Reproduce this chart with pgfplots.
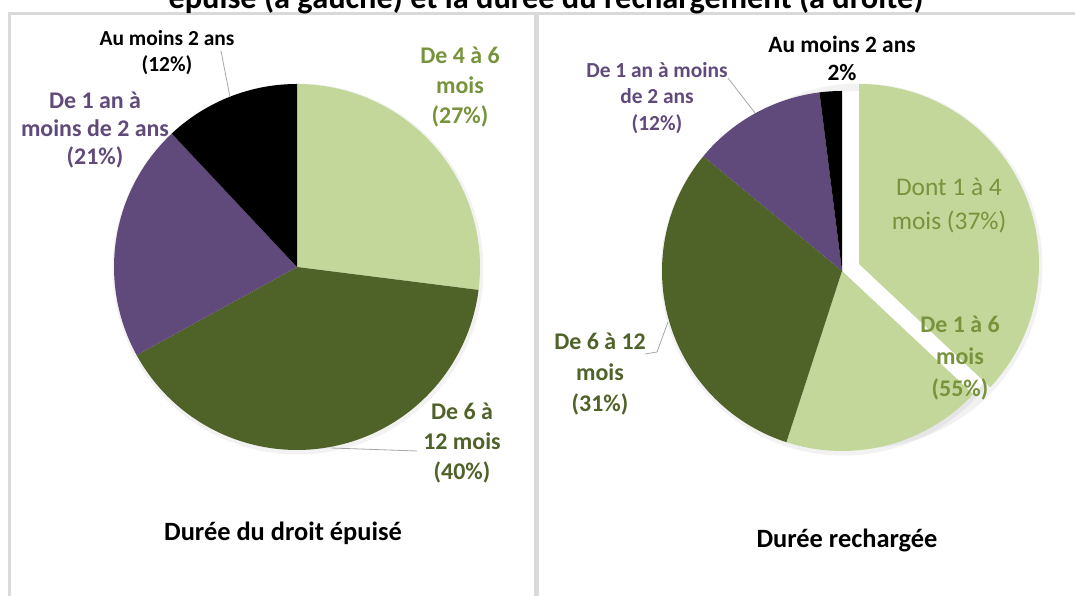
\documentclass[border=0pt]{standalone}
\usepackage{fontspec}
\setmainfont{Carlito}
\usepackage{pgfplots}
\pgfplotsset{compat=1.18}
\definecolor{lg}{HTML}{C4D79B}
\definecolor{dg}{HTML}{4F6228}
\definecolor{pu}{HTML}{604A7B}
\definecolor{lgt}{HTML}{77933C}
\definecolor{put}{HTML}{604A7B}
\definecolor{dgt}{HTML}{4F6228}
\definecolor{frame}{HTML}{D9D9D9}
\definecolor{lead}{HTML}{A6A6A6}
\begin{document}
\begin{tikzpicture}[x=1bp,y=1bp]
\useasboundingbox (0,0) rectangle (1075,596);
\clip (0,0) rectangle (1075,596);
% panels
\draw[frame, line width=2.5bp] (9.3,-10) -- (9.3,582.5) -- (535.5,582.5) -- (535.5,-10);
\draw[frame, line width=2.5bp] (538,-10) -- (538,582.5) -- (1090,582.5);
% title (cut off at top, as in the source)
\node[anchor=base, font=\bfseries\fontsize{32.5}{38}\selectfont, inner sep=0pt] at (546,587) {épuisé (à gauche) et la durée du rechargement (à droite)};
% soft shadows
\fill[black, opacity=0.05] (298,327) circle (185.5);
\fill[black, opacity=0.05] (843,323) circle (182.5);
\fill[black, opacity=0.05] (860,330) circle (182.5);
\begin{axis}[at={(0,0)}, anchor=origin, x=1bp, y=1bp,
  xmin=0, xmax=1075, ymin=0, ymax=596, enlargelimits=false,
  hide axis, clip=false]
% white gap behind the exploded slice
\addplot[draw=none, fill=white, domain={90-3.6*37}:90, samples=100] ({842+180.5*cos(x)},{325+180.5*sin(x)}) -- (842,325) -- cycle;
\addplot[draw=none, fill=white, domain={90-3.6*37}:90, samples=100] ({859+179*cos(x)},{332+179*sin(x)}) -- (859,332) -- cycle;
% ---- left pie: 27, 40, 21, 12 (clockwise from top)
\addplot[draw=none, fill=lg, domain={90-3.6*27}:90, samples=80] ({297+183*cos(x)},{329+183*sin(x)}) -- (297,329) -- cycle;
\addplot[draw=none, fill=dg, domain={90-3.6*67}:{90-3.6*27}, samples=100] ({297+183*cos(x)},{329+183*sin(x)}) -- (297,329) -- cycle;
\addplot[draw=none, fill=pu, domain={90-3.6*88}:{90-3.6*67}, samples=60] ({297+183*cos(x)},{329+183*sin(x)}) -- (297,329) -- cycle;
\addplot[draw=none, fill=black, domain={90-3.6*100}:{90-3.6*88}, samples=40] ({297+183*cos(x)},{329+183*sin(x)}) -- (297,329) -- cycle;
% ---- right pie: 37 (exploded), 18, 31, 12, 2
\addplot[draw=none, fill=lg, domain={90-3.6*37}:90, samples=100] ({859+180*cos(x)},{332+180*sin(x)}) -- (859,332) -- cycle;
\addplot[draw=none, fill=lg, domain={90-3.6*55}:{90-3.6*37}, samples=60] ({842+180*cos(x)},{325+180*sin(x)}) -- (842,325) -- cycle;
\addplot[draw=none, fill=dg, domain={90-3.6*86}:{90-3.6*55}, samples=80] ({842+180*cos(x)},{325+180*sin(x)}) -- (842,325) -- cycle;
\addplot[draw=none, fill=pu, domain={90-3.6*98}:{90-3.6*86}, samples=40] ({842+180*cos(x)},{325+180*sin(x)}) -- (842,325) -- cycle;
\addplot[draw=none, fill=black, domain={90-3.6*100}:{90-3.6*98}, samples=10] ({842+180*cos(x)},{325+180*sin(x)}) -- (842,325) -- cycle;
% leader lines
\draw[lead, line width=0.8bp] (221,545) -- (230,499);
\draw[lead, line width=0.8bp] (331,148) -- (417,145);
\draw[lead, line width=0.8bp] (728,518) -- (755,483);
\draw[lead, line width=0.8bp] (668,274) -- (657,244) -- (645,242);
% labels left
\node[align=center, font=\bfseries\fontsize{21.5}{26}\selectfont] at (167,543) {Au moins 2 ans\\(12\%)};
\node[align=center, text=lgt, font=\bfseries\fontsize{24}{30.5}\selectfont] at (460,509) {De 4 à 6\\mois\\(27\%)};
\node[align=center, text=put, font=\bfseries\fontsize{24}{28.5}\selectfont] at (95,466) {De 1 an à\\moins de 2 ans\\(21\%)};
\node[align=center, text=dgt, font=\bfseries\fontsize{24}{30.5}\selectfont] at (462,153) {De 6 à\\12 mois\\(40\%)};
\node[font=\bfseries\fontsize{26.5}{32}\selectfont] at (283,63) {Durée du droit épuisé};
% labels right
\node[align=center, font=\bfseries\fontsize{23.5}{28}\selectfont] at (842,538) {Au moins 2 ans\\2\%};
\node[align=center, text=put, font=\bfseries\fontsize{21.5}{26.5}\selectfont] at (657,498) {De 1 an à moins\\de 2 ans\\(12\%)};
\node[align=center, text=lgt, font=\fontsize{25.5}{34}\selectfont] at (949,390) {Dont 1 à 4\\mois (37\%)};
\node[align=center, text=lgt, font=\bfseries\fontsize{24}{32}\selectfont] at (960,238) {De 1 à 6\\mois\\(55\%)};
\node[align=center, text=dgt, font=\bfseries\fontsize{24}{31}\selectfont] at (600,222) {De 6 à 12\\mois\\(31\%)};
\node[font=\bfseries\fontsize{26.5}{32}\selectfont] at (847,56) {Durée rechargée};
\end{axis}
\end{tikzpicture}
\end{document}
